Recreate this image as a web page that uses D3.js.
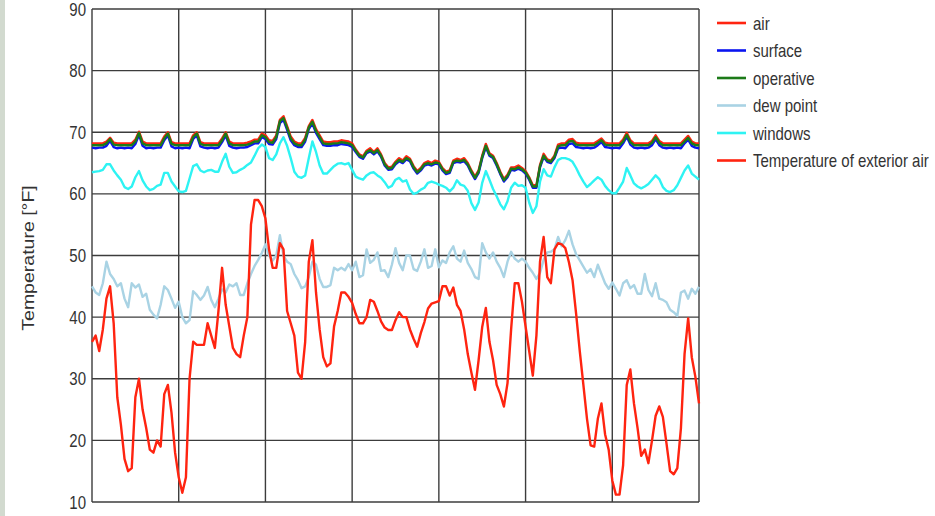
<!DOCTYPE html>
<html>
<head>
<meta charset="utf-8">
<script src="https://cdn.jsdelivr.net/npm/d3@7"></script>
<style>
  body { margin: 0; background: #fff; }
  svg { display: block; }
</style>
</head>
<body>
<script>
// Hourly temperatures over one week (hour 0 .. 168), °F
const hourTicks = [0, 24, 48, 72, 96, 120, 144, 168];
const tempTicks = [10, 20, 30, 40, 50, 60, 70, 80, 90];

const airTemp = [
  68.2,68.2,68.2,68.2,68.5,69.1,68.3,68.2,68.2,68.2,
  68.2,68.2,68.8,70.1,68.5,68.2,68.2,68.2,68.2,68.2,
  69.3,70.0,68.4,68.2,68.2,68.2,68.2,68.2,69.5,70.0,
  68.4,68.2,68.2,68.2,68.2,68.2,69.0,70.0,68.5,68.2,
  68.2,68.2,68.2,68.3,68.5,68.8,68.8,69.8,69.5,68.7,
  68.6,69.5,72.0,72.6,71.0,69.3,68.5,68.2,68.2,69.1,
  71.0,72.0,70.5,69.5,68.5,68.4,68.4,68.5,68.5,68.7,
  68.6,68.5,68.2,67.2,66.4,66.1,67.0,67.4,66.8,67.4,
  66.4,65.0,64.3,64.4,65.2,65.8,65.4,66.1,65.7,64.5,
  63.7,64.2,65.0,65.3,65.0,65.4,65.2,64.2,63.6,63.8,
  65.4,65.7,65.5,65.8,65.0,63.8,62.8,63.8,66.2,68.1,
  66.6,66.2,65.0,63.6,62.4,63.1,64.3,64.3,64.6,64.2,
  63.7,62.7,61.4,61.4,64.7,66.5,65.6,65.4,66.2,68.0,
  68.2,68.2,68.8,68.9,68.3,68.2,68.2,68.2,68.2,68.2,
  68.6,69.0,68.3,68.2,68.2,68.2,68.2,68.8,69.9,68.7,
  68.2,68.2,68.2,68.2,68.2,68.6,69.5,68.6,68.2,68.2,
  68.2,68.2,68.2,68.2,68.8,69.4,68.5,68.2,68.2
];

const surfaceTemp = [
  67.5,67.4,67.5,67.5,67.8,68.6,67.6,67.4,67.5,67.4,
  67.5,67.4,68.1,69.6,67.8,67.4,67.5,67.4,67.5,67.5,
  68.7,69.5,67.7,67.4,67.5,67.4,67.5,67.4,68.9,69.5,
  67.7,67.5,67.4,67.5,67.4,67.5,68.4,69.5,67.8,67.5,
  67.4,67.5,67.5,67.6,67.9,68.2,68.2,69.2,68.9,68.1,
  68.0,68.9,71.5,72.0,70.4,68.7,67.9,67.6,67.6,68.5,
  70.5,71.4,69.9,68.9,67.9,67.8,67.8,67.9,67.9,68.1,
  68.0,67.9,67.6,66.8,66.0,65.7,66.6,66.9,66.4,66.9,
  66.0,64.6,63.9,64.0,64.8,65.3,65.0,65.6,65.3,64.1,
  63.3,63.8,64.6,64.8,64.6,64.9,64.8,63.8,63.2,63.4,
  65.0,65.2,65.1,65.3,64.6,63.4,62.4,63.4,65.8,67.6,
  66.2,65.8,64.6,63.2,62.0,62.7,63.9,63.8,64.1,63.8,
  63.3,62.3,61.0,61.0,64.3,66.0,65.2,65.0,65.8,67.4,
  67.5,67.4,68.1,68.2,67.6,67.5,67.4,67.5,67.4,67.5,
  67.9,68.4,67.6,67.5,67.4,67.5,67.4,68.2,69.3,68.0,
  67.5,67.4,67.5,67.4,67.5,67.9,68.9,67.9,67.5,67.4,
  67.5,67.4,67.5,67.4,68.2,68.8,67.8,67.5,67.4
];

const operativeTemp = [
  67.9,67.9,67.9,67.9,68.2,68.9,68.0,67.9,67.9,67.9,
  67.9,67.9,68.5,69.9,68.2,67.9,67.9,67.9,67.9,67.9,
  69.0,69.8,68.1,67.9,67.9,67.9,67.9,67.9,69.2,69.8,
  68.1,67.9,67.9,67.9,67.9,67.9,68.7,69.8,68.2,67.9,
  67.9,67.9,67.9,68.0,68.2,68.5,68.5,69.5,69.2,68.4,
  68.3,69.2,71.8,72.3,70.7,69.0,68.2,67.9,67.9,68.8,
  70.8,71.7,70.2,69.2,68.2,68.1,68.1,68.2,68.2,68.4,
  68.3,68.2,67.9,67.0,66.2,65.9,66.8,67.1,66.6,67.1,
  66.2,64.8,64.1,64.2,65.0,65.5,65.2,65.8,65.5,64.3,
  63.5,64.0,64.8,65.0,64.8,65.1,65.0,64.0,63.4,63.6,
  65.2,65.4,65.3,65.5,64.8,63.6,62.6,63.6,66.0,67.8,
  66.4,66.0,64.8,63.4,62.2,62.9,64.1,64.0,64.3,64.0,
  63.5,62.5,61.2,61.2,64.5,66.2,65.4,65.2,66.0,67.7,
  67.9,67.9,68.5,68.6,68.0,67.9,67.9,67.9,67.9,67.9,
  68.3,68.7,68.0,67.9,67.9,67.9,67.9,68.5,69.6,68.4,
  67.9,67.9,67.9,67.9,67.9,68.3,69.2,68.3,67.9,67.9,
  67.9,67.9,67.9,67.9,68.5,69.1,68.2,67.9,67.9
];

const dewPoint = [
  45,44,43.6,45.5,49,47,46.2,45,45.5,43,
  41.6,45.5,44.8,45.3,43.3,43.8,41.2,40.4,39.8,42,
  45,44.4,43,41.5,42.5,40,39,39.5,44.2,43.6,
  42.8,43.5,44.9,42.8,41.6,43,44.5,44,45.3,45,
  45.5,43.6,43.6,45.5,47,48.3,49.3,50.4,51.8,50,
  49.2,50,53.3,50,49,48.6,47,46,44.7,45,
  46.5,49,48.5,46.2,44.9,44.9,45.2,48,47.6,48,
  47.6,48.6,47.6,49,46.5,46.8,51,48.8,49.3,50.5,
  47.5,47.6,46.5,48.5,51.2,48.8,47.6,50,50,47.8,
  47.5,49,51,48,48.3,51,48.1,49.2,48.8,50.5,
  51.5,49.5,49,50.8,48.8,47.8,46.5,46.2,52,50.5,
  49.5,50.5,49,48,46.5,49,50.6,49.5,49,49.5,
  49,48,47.2,46.2,47.2,49.3,50.5,50.6,51,53,
  51.5,52.5,54,51.8,50.2,49.2,48.2,47.2,47.8,46.5,
  48.5,47,45.5,44.6,45.6,44.6,43.5,45.5,46,44.7,
  45.2,43.8,43.8,47,44.4,43.4,45.5,43,42.8,42.4,
  41.2,40.8,40.2,44,44.3,43,44.6,43.8,44.9
];

const windowsTemp = [
  63.5,63.6,63.7,63.9,64.8,64.8,63.8,63,62.3,61.1,
  60.8,61.2,62.7,63.7,62.2,61.2,60.6,60.8,61.3,61.5,
  63.4,63.4,62,61.2,60.4,60.3,60.5,62.5,64.5,64.8,
  63.8,63.5,63.8,63.9,63.6,63.6,65.2,66.5,64.4,63.4,
  63.5,63.9,64.2,64.7,65.1,66.2,67.4,68,67.6,65.8,
  65.5,66.4,68.2,69.2,67.8,65.8,63.6,62.8,62.6,63,
  65.8,68.5,66.8,64.6,63.3,63.3,63.9,64.5,64.9,65,
  64.8,65,63.9,62.8,62.5,62.3,63,63.4,63.5,63,
  62.6,61.9,61,61.3,62.3,62.6,62,62.2,60.7,60,
  60.2,60.7,61,61.8,62,61.8,61.5,61.3,61,60.4,
  61,62.2,61.5,61.3,60.5,58.5,57.4,58.6,61.8,63.7,
  62.3,60.8,59.6,58.3,57.5,58.8,61,61.8,61.3,61.4,
  61,58.6,56.9,58,62,64,63,62.8,64.3,65.5,
  65.8,65.8,65.6,65.2,64.2,63,62,61.1,61.6,62.2,
  62.7,62.3,61.3,60.6,60.1,60.1,61,62,64.2,63,
  61.7,61.2,60.9,61.2,61.6,62.3,63,62.4,61.1,60.5,
  60.3,60.6,61.4,62.6,63.8,64.6,63.3,62.8,62.3
];

const exteriorTemp = [
  36,37,34.5,38,43,45,39,27,22.5,17,
  15,15.5,27,30,25,22,18.5,18,20,19,
  27.5,29,24.5,18,14,11.5,14,30,36,35.5,
  35.5,35.5,39,37,35,41,48,42,38.5,35,
  34,33.5,37,40,55,59,59,58,56,51,
  48,48,52,51,41,39,37,31,30,36,
  49,52.5,44,38,33.5,32,32.5,38.5,41,44,
  44,43.3,42.3,40.5,39,39,40,42.8,42.5,41,
  39.3,38.3,37.9,37.9,39.5,40.8,40,40,38,36.5,
  35.2,37.4,39.2,41.4,42.2,42.4,42.6,45,45,43.5,
  44.8,42,41,38,34,31,28.2,33,38.4,41.5,
  36,33,29,27.5,25.5,29.3,38,45.5,45.5,42.5,
  38.5,34.5,30.5,37,49,53,46.5,45.5,51,52,
  51.8,51.2,48.9,46,40.5,34.5,29,23.5,19.2,19,
  23.5,26,21,18.5,13.5,11.2,11.2,16,29,31.5,
  26,22,17.5,18.5,16.3,20,24,25.5,23.8,19.5,
  15,14.5,15.5,22,34,39.8,33.5,30.3,26
];

const seriesNames = ["air", "surface", "operative", "dew point", "windows", "Temperature of exterior air"];
const seriesValues = [airTemp, surfaceTemp, operativeTemp, dewPoint, windowsTemp, exteriorTemp];
const seriesColors = ["#ff2410", "#0a14f0", "#1c7a18", "#a9d3e4", "#2ef3f3", "#ff2410"];

const W = 935, H = 516;
const FONT = "'Liberation Sans', Arial, sans-serif";
const STRETCH = 1.22;   // tall, narrow lettering

const svg = d3.select("body").append("svg")
  .attr("width", W).attr("height", H);

svg.append("rect").attr("width", W).attr("height", H).attr("fill", "#fff");
// pale band at the left edge
svg.append("rect").attr("x", 0).attr("y", 0).attr("width", 5).attr("height", H)
  .attr("fill", "#d2dacf");

const x = d3.scaleLinear().domain([0, 168]).range([92, 699]);
const y = d3.scaleLinear().domain([10, 90]).range([502, 9]);

// grid lines
const gridH = svg.append("g").attr("stroke", "#3c3c3c").attr("stroke-width", 1.4);
gridH.selectAll("line").data(tempTicks).join("line")
  .attr("x1", x(0)).attr("x2", x(168))
  .attr("y1", d => y(d)).attr("y2", d => y(d));
const gridV = svg.append("g").attr("stroke", "#3c3c3c").attr("stroke-width", 1.4);
gridV.selectAll("line").data(hourTicks).join("line")
  .attr("x1", d => x(d)).attr("x2", d => x(d))
  .attr("y1", y(90)).attr("y2", y(10));

// temperature tick labels
svg.append("g").selectAll("g").data(tempTicks).join("g")
  .attr("transform", d => `translate(86,${y(d)}) scale(1,${STRETCH})`)
  .append("text")
  .attr("text-anchor", "end").attr("dy", "0.36em")
  .attr("font-family", FONT).attr("font-size", 15).attr("fill", "#333")
  .text(d => d);

// axis title
svg.append("g")
  .attr("transform", `translate(28,258) scale(1,${STRETCH}) rotate(-90)`)
  .append("text")
  .attr("text-anchor", "middle").attr("dy", "0.36em")
  .attr("font-family", FONT).attr("font-size", 16).attr("fill", "#333")
  .text("Temperature [°F]");

// series lines
const line = d3.line()
  .x((d, i) => x(i))
  .y(d => y(d));

svg.append("g").selectAll("path").data(seriesValues).join("path")
  .attr("d", line)
  .attr("fill", "none")
  .attr("stroke", (d, i) => seriesColors[i])
  .attr("stroke-width", 2.4)
  .attr("stroke-linejoin", "round");

// legend
const legend = svg.append("g").selectAll("g").data(seriesNames).join("g")
  .attr("transform", (d, i) => `translate(0,${23 + i * 27.5})`);
legend.append("line")
  .attr("x1", 717).attr("x2", 746)
  .attr("stroke", (d, i) => seriesColors[i]).attr("stroke-width", 2.6);
legend.append("g")
  .attr("transform", `translate(753,0) scale(1,${STRETCH})`)
  .append("text")
  .attr("dy", "0.36em")
  .attr("font-family", FONT).attr("font-size", 15).attr("fill", "#333")
  .text(d => d);
</script>
</body>
</html>
